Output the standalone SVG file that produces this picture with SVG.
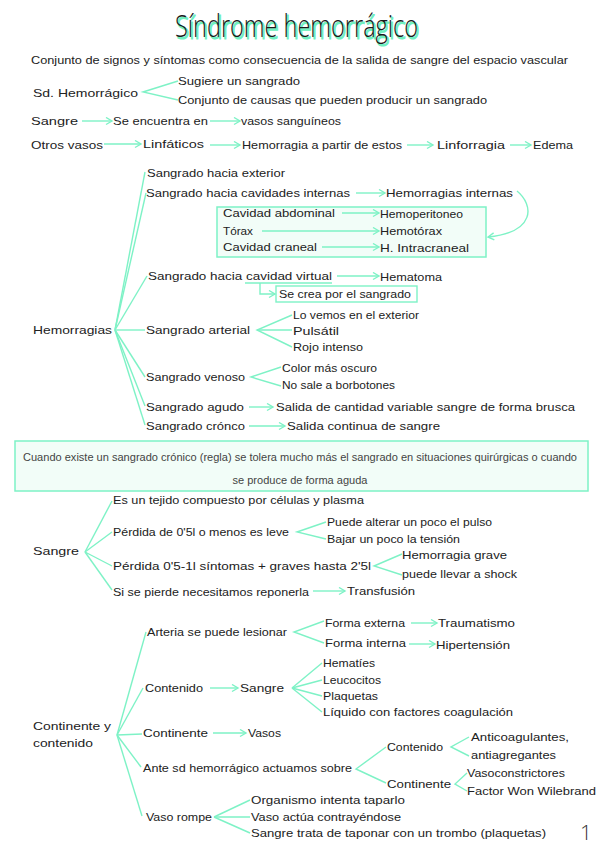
<svg xmlns="http://www.w3.org/2000/svg" width="599" height="848" viewBox="0 0 599 848">
<style>
text{font-family:"Liberation Sans","DejaVu Sans",sans-serif;font-size:11.5px;fill:#222}
.c line,.c path,.c polyline{stroke:#7ef2c6;stroke-width:1.4;fill:none}
.a{marker-end:url(#ah)}
.box{fill:#f2fdf8;stroke:#7ef2c6;stroke-width:1.5}
.note{font-family:"Liberation Sans Narrow","Liberation Sans",sans-serif;font-size:11px;fill:#444}
.title{font-family:"Open Sans","Liberation Sans",sans-serif;font-size:32px;font-weight:300}
</style>
<defs>
<marker id="ah" markerWidth="9" markerHeight="9" refX="7" refY="4.5" orient="auto" markerUnits="userSpaceOnUse">
<path d="M1,1 L7,4.5 L1,8" fill="none" stroke="#7ef2c6" stroke-width="1.4"/>
</marker>
</defs>
<rect width="599" height="848" fill="#fff"/>

<g id="title">
<text class="title" x="298" y="38.5" text-anchor="middle" textLength="243" lengthAdjust="spacingAndGlyphs" style="fill:#6ff0c0;stroke:#6ff0c0;stroke-width:1.2">Síndrome hemorrágico</text>
<text class="title" x="296.5" y="37" text-anchor="middle" textLength="243" lengthAdjust="spacingAndGlyphs" style="fill:#1a1a1a">Síndrome hemorrágico</text>
</g>

<!-- nodes -->
<g id="n-def"><text x="31" y="64" textLength="537" lengthAdjust="spacingAndGlyphs">Conjunto de signos y síntomas como consecuencia de la salida de sangre del espacio vascular</text></g>
<g id="n-sd"><text x="33" y="97" textLength="105" lengthAdjust="spacingAndGlyphs">Sd. Hemorrágico</text></g>
<g id="n-sugiere"><text x="178" y="85" textLength="122" lengthAdjust="spacingAndGlyphs">Sugiere un sangrado</text></g>
<g id="n-causas"><text x="178" y="104" textLength="309" lengthAdjust="spacingAndGlyphs">Conjunto de causas que pueden producir un sangrado</text></g>
<g id="n-sangre1"><text x="31" y="125" textLength="47" lengthAdjust="spacingAndGlyphs">Sangre</text></g>
<g id="n-encuentra"><text x="113" y="125" textLength="95" lengthAdjust="spacingAndGlyphs">Se encuentra en</text></g>
<g id="n-vasos-sang"><text x="241" y="125" textLength="100" lengthAdjust="spacingAndGlyphs">vasos sanguíneos</text></g>
<g id="n-otros"><text x="31" y="149" textLength="72" lengthAdjust="spacingAndGlyphs">Otros vasos</text></g>
<g id="n-linfaticos"><text x="143" y="148" textLength="61" lengthAdjust="spacingAndGlyphs">Linfáticos</text></g>
<g id="n-hem-estos"><text x="242" y="149" textLength="160" lengthAdjust="spacingAndGlyphs">Hemorragia a partir de estos</text></g>
<g id="n-linforragia"><text x="437" y="149" textLength="68" lengthAdjust="spacingAndGlyphs">Linforragia</text></g>
<g id="n-edema"><text x="533" y="149" textLength="40" lengthAdjust="spacingAndGlyphs">Edema</text></g>

<g id="n-hemorragias"><text x="33" y="334" textLength="79" lengthAdjust="spacingAndGlyphs">Hemorragias</text></g>
<g id="n-exterior"><text x="147" y="177" textLength="138" lengthAdjust="spacingAndGlyphs">Sangrado hacia exterior</text></g>
<g id="n-cav-int"><text x="146" y="197" textLength="204" lengthAdjust="spacingAndGlyphs">Sangrado hacia cavidades internas</text></g>
<g id="n-hem-int"><text x="386" y="197" textLength="127" lengthAdjust="spacingAndGlyphs">Hemorragias internas</text></g>
<g id="n-cavbox">
<rect class="box" x="217" y="207" width="269" height="50"/>
<text x="223" y="217" textLength="112" lengthAdjust="spacingAndGlyphs">Cavidad abdominal</text>
<text x="380" y="218" textLength="83" lengthAdjust="spacingAndGlyphs">Hemoperitoneo</text>
<text x="223" y="235" textLength="30" lengthAdjust="spacingAndGlyphs">Tórax</text>
<text x="380" y="235" textLength="62" lengthAdjust="spacingAndGlyphs">Hemotórax</text>
<text x="223" y="251" textLength="94" lengthAdjust="spacingAndGlyphs">Cavidad craneal</text>
<text x="380" y="252" textLength="89" lengthAdjust="spacingAndGlyphs">H. Intracraneal</text>
</g>
<g id="n-virtual"><text x="148" y="280" textLength="184" lengthAdjust="spacingAndGlyphs">Sangrado hacia cavidad virtual</text></g>
<g id="n-hematoma"><text x="380" y="281" textLength="62" lengthAdjust="spacingAndGlyphs">Hematoma</text></g>
<g id="n-secrea">
<rect x="276" y="286" width="141" height="16" fill="#fff" stroke="#7ef2c6" stroke-width="1.4"/>
<text x="279" y="298" textLength="132" lengthAdjust="spacingAndGlyphs">Se crea por el sangrado</text>
</g>
<g id="n-arterial"><text x="146" y="334" textLength="104" lengthAdjust="spacingAndGlyphs">Sangrado arterial</text></g>
<g id="n-lovemos"><text x="293" y="319" textLength="126" lengthAdjust="spacingAndGlyphs">Lo vemos en el exterior</text></g>
<g id="n-pulsatil"><text x="293" y="335" textLength="46" lengthAdjust="spacingAndGlyphs">Pulsátil</text></g>
<g id="n-rojo"><text x="293" y="351" textLength="70" lengthAdjust="spacingAndGlyphs">Rojo intenso</text></g>
<g id="n-venoso"><text x="146" y="381" textLength="99" lengthAdjust="spacingAndGlyphs">Sangrado venoso</text></g>
<g id="n-color"><text x="282" y="372" textLength="95" lengthAdjust="spacingAndGlyphs">Color más oscuro</text></g>
<g id="n-nosale"><text x="282" y="389" textLength="113" lengthAdjust="spacingAndGlyphs">No sale a borbotones</text></g>
<g id="n-agudo"><text x="146" y="411" textLength="98" lengthAdjust="spacingAndGlyphs">Sangrado agudo</text></g>
<g id="n-brusca"><text x="276" y="411" textLength="299" lengthAdjust="spacingAndGlyphs">Salida de cantidad variable sangre de forma brusca</text></g>
<g id="n-cronco"><text x="146" y="430" textLength="99" lengthAdjust="spacingAndGlyphs">Sangrado crónco</text></g>
<g id="n-continua"><text x="287" y="430" textLength="153" lengthAdjust="spacingAndGlyphs">Salida continua de sangre</text></g>

<g id="n-note">
<rect class="box" x="15" y="441" width="573" height="50"/>
<text class="note" x="300" y="461" text-anchor="middle" textLength="554" lengthAdjust="spacingAndGlyphs">Cuando existe un sangrado crónico (regla) se tolera mucho más el sangrado en situaciones quirúrgicas o cuando</text>
<text class="note" x="300" y="484" text-anchor="middle" textLength="135" lengthAdjust="spacingAndGlyphs">se produce de forma aguda</text>
</g>

<g id="n-sangre2"><text x="33" y="555" textLength="46" lengthAdjust="spacingAndGlyphs">Sangre</text></g>
<g id="n-tejido"><text x="113" y="504" textLength="251" lengthAdjust="spacingAndGlyphs">Es un tejido compuesto por células y plasma</text></g>
<g id="n-perdida1"><text x="113" y="536" textLength="176" lengthAdjust="spacingAndGlyphs">Pérdida de 0'5l o menos es leve</text></g>
<g id="n-pulso"><text x="327" y="526" textLength="165" lengthAdjust="spacingAndGlyphs">Puede alterar un poco el pulso</text></g>
<g id="n-tension"><text x="327" y="543" textLength="133" lengthAdjust="spacingAndGlyphs">Bajar un poco la tensión</text></g>
<g id="n-perdida2"><text x="113" y="570" textLength="258" lengthAdjust="spacingAndGlyphs">Pérdida 0'5-1l síntomas + graves hasta 2'5l</text></g>
<g id="n-grave"><text x="402" y="559" textLength="105" lengthAdjust="spacingAndGlyphs">Hemorragia grave</text></g>
<g id="n-shock"><text x="402" y="578" textLength="115" lengthAdjust="spacingAndGlyphs">puede llevar a shock</text></g>
<g id="n-reponerla"><text x="113" y="596" textLength="196" lengthAdjust="spacingAndGlyphs">Si se pierde necesitamos reponerla</text></g>
<g id="n-transfusion"><text x="347" y="595" textLength="68" lengthAdjust="spacingAndGlyphs">Transfusión</text></g>

<g id="n-cont-y"><text x="33" y="730" textLength="78" lengthAdjust="spacingAndGlyphs">Continente y</text><text x="33" y="747" textLength="60" lengthAdjust="spacingAndGlyphs">contenido</text></g>
<g id="n-arteria"><text x="147" y="636" textLength="140" lengthAdjust="spacingAndGlyphs">Arteria se puede lesionar</text></g>
<g id="n-fext"><text x="325" y="627" textLength="80" lengthAdjust="spacingAndGlyphs">Forma externa</text></g>
<g id="n-trauma"><text x="438" y="627" textLength="77" lengthAdjust="spacingAndGlyphs">Traumatismo</text></g>
<g id="n-fint"><text x="325" y="647" textLength="81" lengthAdjust="spacingAndGlyphs">Forma interna</text></g>
<g id="n-hiper"><text x="436" y="649" textLength="74" lengthAdjust="spacingAndGlyphs">Hipertensión</text></g>
<g id="n-contenido1"><text x="145" y="692" textLength="58" lengthAdjust="spacingAndGlyphs">Contenido</text></g>
<g id="n-sangre3"><text x="240" y="692" textLength="44" lengthAdjust="spacingAndGlyphs">Sangre</text></g>
<g id="n-hematies"><text x="323" y="667" textLength="52" lengthAdjust="spacingAndGlyphs">Hematíes</text></g>
<g id="n-leuco"><text x="323" y="684" textLength="58" lengthAdjust="spacingAndGlyphs">Leucocitos</text></g>
<g id="n-plaq"><text x="323" y="700" textLength="55" lengthAdjust="spacingAndGlyphs">Plaquetas</text></g>
<g id="n-liquido"><text x="323" y="716" textLength="190" lengthAdjust="spacingAndGlyphs">Líquido con factores coagulación</text></g>
<g id="n-continente1"><text x="143" y="737" textLength="65" lengthAdjust="spacingAndGlyphs">Continente</text></g>
<g id="n-vasos"><text x="248" y="737" textLength="33" lengthAdjust="spacingAndGlyphs">Vasos</text></g>
<g id="n-ante"><text x="143" y="772" textLength="209" lengthAdjust="spacingAndGlyphs">Ante sd hemorrágico actuamos sobre</text></g>
<g id="n-contenido2"><text x="387" y="751" textLength="56" lengthAdjust="spacingAndGlyphs">Contenido</text></g>
<g id="n-continente2"><text x="387" y="788" textLength="64" lengthAdjust="spacingAndGlyphs">Continente</text></g>
<g id="n-anticoag"><text x="471" y="741" textLength="98" lengthAdjust="spacingAndGlyphs">Anticoagulantes,</text></g>
<g id="n-antiagreg"><text x="471" y="759" textLength="85" lengthAdjust="spacingAndGlyphs">antiagregantes</text></g>
<g id="n-vasocon"><text x="467" y="777" textLength="98" lengthAdjust="spacingAndGlyphs">Vasoconstrictores</text></g>
<g id="n-factor"><text x="467" y="795" textLength="129" lengthAdjust="spacingAndGlyphs">Factor Won Wilebrand</text></g>
<g id="n-vasorompe"><text x="146" y="821" textLength="66" lengthAdjust="spacingAndGlyphs">Vaso rompe</text></g>
<g id="n-organismo"><text x="251" y="804" textLength="154" lengthAdjust="spacingAndGlyphs">Organismo intenta taparlo</text></g>
<g id="n-contrae"><text x="251" y="821" textLength="150" lengthAdjust="spacingAndGlyphs">Vaso actúa contrayéndose</text></g>
<g id="n-trombo"><text x="251" y="837" textLength="295" lengthAdjust="spacingAndGlyphs">Sangre trata de taponar con un trombo (plaquetas)</text></g>
<g id="n-page"><text x="580" y="840" style="font-family:'Open Sans','Liberation Sans',sans-serif;font-size:21px;font-weight:300;fill:#333">1</text></g>

<!-- connectors -->
<g id="connectors" class="c">
<polyline points="178,81 143,92 178,100"/>
<line class="a" x1="82" y1="121" x2="112" y2="121"/>
<line class="a" x1="210" y1="121" x2="240" y2="121"/>
<line class="a" x1="104" y1="144" x2="141" y2="144"/>
<line class="a" x1="210" y1="145" x2="240" y2="145"/>
<line class="a" x1="407" y1="145" x2="433" y2="145"/>
<line class="a" x1="510" y1="145" x2="531" y2="145"/>

<line x1="115" y1="330" x2="145" y2="172"/>
<line x1="115" y1="330" x2="146" y2="193"/>
<line x1="115" y1="330" x2="147" y2="276"/>
<line x1="115" y1="330" x2="145" y2="330"/>
<line x1="115" y1="330" x2="145" y2="377"/>
<line x1="115" y1="330" x2="145" y2="406"/>
<line x1="115" y1="330" x2="145" y2="425"/>
<line class="a" x1="356" y1="193" x2="385" y2="193"/>
<path class="a" d="M517,191 C534,205 536,232 488,237"/>
<line class="a" x1="342" y1="213" x2="379" y2="213"/>
<line class="a" x1="262" y1="231" x2="379" y2="231"/>
<line class="a" x1="322" y1="247" x2="379" y2="247"/>
<line x1="245" y1="283" x2="332" y2="283"/>
<line class="a" x1="337" y1="276" x2="379" y2="276"/>
<path class="a" d="M260,283 V294 H275"/>
<polyline points="292,315 257,330 292,347"/>
<line x1="257" y1="330" x2="292" y2="330"/>
<polyline points="281,367 251,377 281,386"/>
<line class="a" x1="249" y1="407" x2="273" y2="407"/>
<line class="a" x1="249" y1="426" x2="285" y2="426"/>

<line x1="85" y1="552" x2="112" y2="501"/>
<line x1="85" y1="552" x2="112" y2="532"/>
<line x1="85" y1="552" x2="112" y2="566"/>
<line x1="85" y1="552" x2="112" y2="590"/>
<polyline points="326,522 297,532 326,539"/>
<polyline points="402,554 374,566 402,575"/>
<line class="a" x1="313" y1="591" x2="345" y2="591"/>

<line x1="117" y1="735" x2="146" y2="632"/>
<line x1="117" y1="735" x2="143" y2="688"/>
<line x1="117" y1="735" x2="142" y2="734"/>
<line x1="117" y1="735" x2="141" y2="767"/>
<line x1="117" y1="735" x2="142" y2="816"/>
<polyline points="324,621 294,632 324,643"/>
<line class="a" x1="411" y1="623" x2="437" y2="623"/>
<line class="a" x1="409" y1="644" x2="435" y2="644"/>
<line class="a" x1="210" y1="688" x2="238" y2="688"/>
<line x1="292" y1="688" x2="322" y2="663"/>
<line x1="292" y1="688" x2="322" y2="680"/>
<line x1="292" y1="688" x2="322" y2="696"/>
<line x1="292" y1="688" x2="322" y2="712"/>
<line class="a" x1="213" y1="733" x2="246" y2="733"/>
<polyline points="386,747 356,769 386,783"/>
<polyline points="469,737 451,747 469,756"/>
<polyline points="467,773 455,784 467,791"/>
<line x1="214" y1="817" x2="250" y2="800"/>
<line x1="214" y1="817" x2="250" y2="817"/>
<line x1="214" y1="817" x2="250" y2="833"/>
</g>
</svg>
